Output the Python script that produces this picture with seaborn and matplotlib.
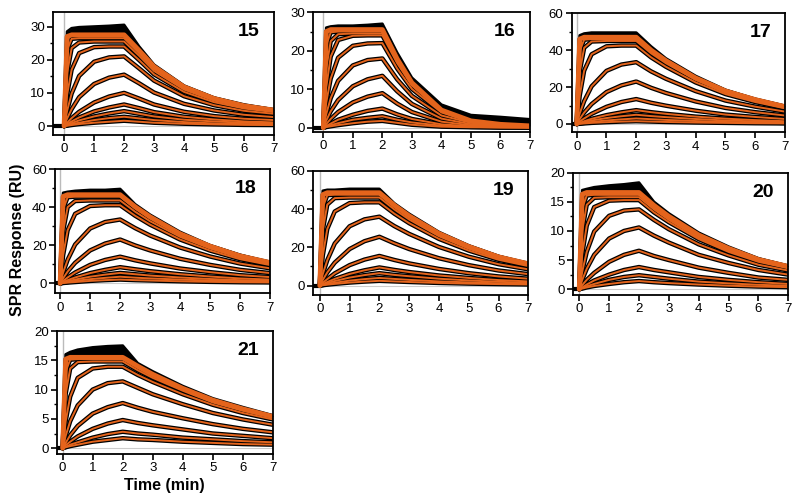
import matplotlib
matplotlib.use("Agg")
import matplotlib.pyplot as plt
import seaborn as sns
from matplotlib.ticker import MultipleLocator

time_min = [0, 0.1, 0.25, 0.5, 1, 1.5, 2, 2.5, 3, 4, 5, 6, 7]

# --- compound 15 ---
resp_15 = [
    [0, 27, 27.5, 27.5, 27.5, 27.5, 27.5, 22.8, 17.9, 11.8, 8.3, 6.1, 4.8],
    [0, 23, 26.3, 26.5, 26.5, 26.5, 26.5, 22, 17.2, 11.4, 8.0, 5.8, 4.6],
    [0, 16, 23.5, 25.2, 25.5, 25.5, 25.5, 21.2, 16.6, 11.0, 7.7, 5.6, 4.5],
    [0, 9.5, 17, 22, 23.8, 24, 24, 19.9, 15.6, 10.3, 7.2, 5.3, 4.2],
    [0, 4.6, 9.8, 15.1, 19.4, 20.7, 21, 17.4, 13.7, 9.0, 6.3, 4.6, 3.7],
    [0, 2.3, 5.1, 8.7, 12.7, 14.6, 15.5, 12.9, 10.1, 6.7, 4.7, 3.4, 2.7],
    [0, 1.0, 2.4, 4.3, 7.1, 8.9, 10, 8.3, 6.5, 4.3, 3.0, 2.2, 1.8],
    [0, 0.6, 1.4, 2.6, 4.4, 5.6, 6.5, 5.4, 4.2, 2.8, 2.0, 1.4, 1.1],
    [0, 0.4, 0.9, 1.7, 2.9, 3.8, 4.5, 3.7, 2.9, 1.9, 1.4, 1.0, 0.8],
    [0, 0.2, 0.6, 1.0, 1.8, 2.4, 2.8, 2.3, 1.8, 1.2, 0.8, 0.6, 0.5],
    [0, 0.1, 0.3, 0.6, 1.0, 1.3, 1.6, 1.3, 1.0, 0.7, 0.5, 0.35, 0.3],
]
top_15 = [0, 28.5, 29.5, 29.8, 30, 30.2, 30.5, 24, 18.5, 12.2, 8.6, 6.5, 5.0]

# --- compound 16 ---
resp_16 = [
    [0, 25, 25.5, 25.5, 25.5, 25.5, 25.5, 17.9, 11.7, 4.6, 1.8, 0.9, 0.5],
    [0, 21.5, 24.8, 25, 25, 25, 25, 17.5, 11.5, 4.5, 1.75, 0.9, 0.5],
    [0, 15.5, 22.5, 24.3, 24.5, 24.5, 24.5, 17.2, 11.3, 4.4, 1.7, 0.85, 0.5],
    [0, 10.6, 18.5, 22.8, 23.9, 24, 24, 16.8, 11, 4.3, 1.7, 0.85, 0.5],
    [0, 6.6, 12.8, 18.2, 21.3, 21.9, 22, 15.4, 10.1, 4.0, 1.5, 0.8, 0.45],
    [0, 3.6, 7.7, 12.2, 16.2, 17.6, 18, 12.6, 8.3, 3.2, 1.3, 0.6, 0.35],
    [0, 1.9, 4.3, 7.2, 10.8, 12.6, 13.5, 9.5, 6.2, 2.4, 0.95, 0.5, 0.3],
    [0, 1.0, 2.3, 4.1, 6.6, 8.1, 9, 6.3, 4.1, 1.6, 0.65, 0.35, 0.2],
    [0, 0.5, 1.1, 2.1, 3.4, 4.4, 5, 3.5, 2.3, 0.9, 0.4, 0.2, 0.1],
    [0, 0.3, 0.7, 1.2, 2.1, 2.6, 3, 2.1, 1.4, 0.55, 0.25, 0.1, 0.1],
    [0, 0.2, 0.4, 0.7, 1.2, 1.6, 1.8, 1.3, 0.8, 0.3, 0.15, 0.1, 0.05],
]
top_16 = [0, 26, 26.3, 26.5, 26.5, 26.7, 27, 19.5, 13, 6, 3.3, 2.8, 2.2]

# --- compound 17 ---
resp_17 = [
    [0, 46, 47, 47, 47, 47, 47, 40, 34.3, 24.9, 17.9, 13.2, 9.4],
    [0, 39.6, 45.7, 46, 46, 46, 46, 39.1, 33.6, 24.4, 17.5, 12.9, 9.2],
    [0, 28.4, 41.3, 44.7, 45, 45, 45, 38.3, 32.9, 23.9, 17.1, 12.6, 9],
    [0, 15.3, 28.9, 37.8, 42.1, 42.5, 42.5, 36.1, 31, 22.5, 16.2, 11.9, 8.5],
    [0, 5.7, 12.4, 20.4, 28.8, 32.2, 33.5, 28.5, 24.5, 17.8, 12.7, 9.4, 6.7],
    [0, 2.7, 6.2, 10.8, 17.3, 20.9, 23, 19.6, 16.8, 12.2, 8.7, 6.4, 4.6],
    [0, 1.3, 3.0, 5.5, 9.3, 11.9, 13.5, 11.5, 9.9, 7.2, 5.1, 3.8, 2.7],
    [0, 0.6, 1.5, 2.8, 4.8, 6.3, 7.5, 6.4, 5.5, 4.0, 2.9, 2.1, 1.5],
    [0, 0.4, 1.0, 1.9, 3.2, 4.2, 5, 4.3, 3.7, 2.7, 1.9, 1.4, 1.0],
    [0, 0.25, 0.6, 1.1, 1.9, 2.5, 3, 2.6, 2.2, 1.6, 1.1, 0.8, 0.6],
    [0, 0.1, 0.3, 0.6, 1.0, 1.3, 1.5, 1.3, 1.1, 0.8, 0.6, 0.4, 0.3],
]
top_17 = [0, 48, 49, 49.5, 49.5, 49.5, 49.5, 42, 35.5, 26, 18.5, 13.5, 9.8]

# --- compound 18 ---
resp_18 = [
    [0, 45.6, 46.5, 46.5, 46.5, 46.5, 46.5, 40.2, 34.9, 26, 19.5, 14.4, 10.9],
    [0, 39.1, 45.2, 45.5, 45.5, 45.5, 45.5, 39.4, 34.1, 25.5, 19.1, 14.1, 10.7],
    [0, 27.4, 40, 43.2, 43.5, 43.5, 43.5, 37.6, 32.6, 24.4, 18.3, 13.5, 10.2],
    [0, 14.8, 27.9, 36.5, 40.6, 41, 41, 35.5, 30.8, 23, 17.2, 12.7, 9.6],
    [0, 5.7, 12.4, 20.4, 28.8, 32.2, 33.5, 29, 25.1, 18.8, 14.1, 10.4, 7.9],
    [0, 2.7, 6.2, 10.8, 17.3, 20.9, 23, 19.9, 17.3, 12.9, 9.7, 7.1, 5.4],
    [0, 1.3, 3.1, 5.7, 9.7, 12.3, 14, 12.1, 10.5, 7.8, 5.9, 4.3, 3.3],
    [0, 0.7, 1.7, 3.1, 5.4, 7.1, 8.5, 7.4, 6.4, 4.8, 3.6, 2.6, 2.0],
    [0, 0.5, 1.1, 2.0, 3.5, 4.6, 5.5, 4.8, 4.1, 3.1, 2.3, 1.7, 1.3],
    [0, 0.3, 0.7, 1.3, 2.2, 2.9, 3.5, 3.0, 2.6, 2.0, 1.5, 1.1, 0.8],
    [0, 0.2, 0.4, 0.7, 1.3, 1.7, 2, 1.7, 1.5, 1.1, 0.8, 0.6, 0.5],
]
top_18 = [0, 47.5, 48, 48.5, 49, 49, 49.5, 41.5, 36, 27, 20, 15, 11]

# --- compound 19 ---
resp_19 = [
    [0, 47.5, 48.5, 48.5, 48.5, 48.5, 48.5, 42, 36.4, 27.2, 20.4, 15, 11.4],
    [0, 40.9, 47.2, 47.5, 47.5, 47.5, 47.5, 41.1, 35.6, 26.6, 20, 14.7, 11.2],
    [0, 29, 42.3, 45.7, 46, 46, 46, 39.8, 34.5, 25.8, 19.3, 14.3, 10.8],
    [0, 15.7, 29.6, 38.7, 43.1, 43.5, 43.5, 37.6, 32.6, 24.4, 18.3, 13.5, 10.2],
    [0, 6.1, 13.3, 22, 31, 34.6, 36, 31.1, 27, 20.2, 15.1, 11.2, 8.5],
    [0, 3.0, 6.9, 12, 19.1, 23.2, 25.5, 22.1, 19.1, 14.3, 10.7, 7.9, 6.0],
    [0, 1.5, 3.4, 6.4, 10.7, 13.6, 15.5, 13.4, 11.6, 8.7, 6.5, 4.8, 3.6],
    [0, 0.8, 1.9, 3.5, 6.1, 8.0, 9.5, 8.2, 7.1, 5.3, 4.0, 2.9, 2.2],
    [0, 0.5, 1.3, 2.4, 4.2, 5.5, 6.5, 5.6, 4.9, 3.6, 2.7, 2.0, 1.5],
    [0, 0.3, 0.8, 1.5, 2.6, 3.4, 4, 3.5, 3, 2.2, 1.7, 1.2, 0.9],
    [0, 0.2, 0.5, 0.9, 1.6, 2.1, 2.5, 2.2, 1.9, 1.4, 1.05, 0.8, 0.6],
]
top_19 = [0, 49.5, 50, 50, 50.5, 50.5, 50.5, 43, 37.5, 28, 21, 15.5, 11.5]

# --- compound 20 ---
resp_20 = [
    [0, 16.3, 16.6, 16.6, 16.6, 16.6, 16.6, 14.4, 12.5, 9.3, 7.0, 5.1, 3.9],
    [0, 13.9, 16.1, 16.2, 16.2, 16.2, 16.2, 14, 12.2, 9.1, 6.8, 5.0, 3.8],
    [0, 10, 14.5, 15.7, 15.8, 15.8, 15.8, 13.7, 11.9, 8.8, 6.6, 4.9, 3.7],
    [0, 6, 10.9, 14.1, 15.2, 15.3, 15.3, 13.2, 11.5, 8.6, 6.4, 4.7, 3.6],
    [0, 3.0, 6.4, 9.9, 12.6, 13.5, 13.7, 11.9, 10.3, 7.7, 5.8, 4.2, 3.2],
    [0, 1.6, 3.5, 5.9, 8.7, 10, 10.6, 9.2, 8.0, 5.9, 4.5, 3.3, 2.5],
    [0, 0.7, 1.6, 2.8, 4.7, 5.9, 6.6, 5.7, 5.0, 3.7, 2.8, 2.0, 1.6],
    [0, 0.3, 0.8, 1.5, 2.5, 3.3, 3.8, 3.3, 2.9, 2.1, 1.6, 1.2, 0.9],
    [0, 0.2, 0.5, 0.9, 1.6, 2.1, 2.4, 2.1, 1.8, 1.3, 1.0, 0.75, 0.6],
    [0, 0.1, 0.3, 0.55, 0.9, 1.2, 1.4, 1.2, 1.05, 0.8, 0.6, 0.45, 0.35],
]
top_20 = [0, 17, 17.2, 17.5, 17.8, 18, 18.3, 15, 13, 9.7, 7.3, 5.3, 4.0]

# --- compound 21 ---
resp_21 = [
    [0, 15.2, 15.5, 15.5, 15.5, 15.5, 15.5, 14, 12.6, 10.2, 8.2, 6.7, 5.4],
    [0, 13.1, 15.1, 15.2, 15.2, 15.2, 15.2, 13.7, 12.3, 10, 8.1, 6.5, 5.3],
    [0, 9.3, 13.6, 14.7, 14.8, 14.8, 14.8, 13.3, 12, 9.8, 7.8, 6.4, 5.2],
    [0, 4.6, 8.8, 12, 13.6, 13.9, 13.9, 12.5, 11.3, 9.2, 7.4, 6.0, 4.9],
    [0, 2.1, 4.6, 7.3, 10, 11.1, 11.4, 10.3, 9.2, 7.5, 6.0, 4.9, 4.0],
    [0, 0.9, 2.2, 3.8, 5.9, 7.0, 7.7, 6.9, 6.2, 5.1, 4.1, 3.3, 2.7],
    [0, 0.5, 1.1, 2.0, 3.3, 4.2, 4.8, 4.3, 3.9, 3.2, 2.5, 2.1, 1.7],
    [0, 0.2, 0.6, 1.0, 1.8, 2.4, 2.8, 2.5, 2.3, 1.8, 1.5, 1.2, 1.0],
    [0, 0.15, 0.35, 0.6, 1.1, 1.4, 1.7, 1.5, 1.4, 1.1, 0.9, 0.7, 0.6],
]
top_21 = [0, 16, 16.4, 16.8, 17.2, 17.4, 17.5, 14.5, 13.1, 10.6, 8.5, 7, 5.6]

panel_names = ["15", "16", "17", "18", "19", "20", "21"]
panel_resp = [resp_15, resp_16, resp_17, resp_18, resp_19, resp_20, resp_21]
panel_top = [top_15, top_16, top_17, top_18, top_19, top_20, top_21]
x_limits = [(-0.37, 7), (-0.34, 7), (-0.17, 7), (-0.17, 7), (-0.22, 7), (-0.2, 7), (-0.18, 7)]
y_limits = [(-2.7, 34.3), (-1, 30), (-4.5, 60), (-5.2, 60), (-4.9, 60), (-1, 20), (-1, 20)]
y_major = [10, 10, 20, 20, 20, 5, 5]

# axes boxes in figure fractions [left, bottom, width, height]
boxes = [
    [0.0663, 0.7316, 0.2762, 0.2439],
    [0.3916, 0.7382, 0.2709, 0.2374],
    [0.7146, 0.7370, 0.2666, 0.2366],
    [0.0688, 0.4169, 0.2688, 0.2471],
    [0.3916, 0.4135, 0.2688, 0.2471],
    [0.7166, 0.4135, 0.2688, 0.2431],
    [0.0716, 0.0974, 0.2695, 0.2445],
]

ORANGE = "#e4641c"

sns.set_theme(style="ticks")
plt.rcParams['font.family'] = ['Liberation Sans', 'DejaVu Sans']
plt.rcParams['text.color'] = 'black'
plt.rcParams['xtick.color'] = 'black'
plt.rcParams['ytick.color'] = 'black'

fig = plt.figure(figsize=(8, 5.03), dpi=100)

for i, name in enumerate(panel_names):
    ax = fig.add_axes(boxes[i])
    x0 = x_limits[i][0]
    ax.axvline(0, color="#bbbbbb", lw=1, zorder=0)
    ax.axhline(0, color="#cccccc", lw=0.8, zorder=0)
    # baseline before injection
    sns.lineplot(x=[x0, 0], y=[0, 0], ax=ax, color="black", lw=3)
    # noisy black band of the top data trace
    ax.fill_between(time_min, panel_resp[i][0], panel_top[i], color="black", lw=0)
    sns.lineplot(x=time_min, y=panel_top[i], ax=ax, color="black", lw=2)
    for curve in panel_resp[i]:
        sns.lineplot(x=time_min, y=curve, ax=ax, color="black", lw=3.2)
    # orange fits
    for j, curve in enumerate(panel_resp[i]):
        sns.lineplot(x=time_min, y=curve, ax=ax, color=ORANGE,
                     lw=3.5 if j == 0 else 1.4)

    ax.set_xlim(*x_limits[i])
    ax.set_ylim(*y_limits[i])
    ax.set_xticks(range(0, 8))
    ax.yaxis.set_major_locator(MultipleLocator(y_major[i]))
    ax.yaxis.set_minor_locator(MultipleLocator(y_major[i] / 2))
    ax.tick_params(axis="both", which="major", direction="out", length=4,
                   width=1.2, labelsize=9.5, pad=2, color="black",
                   labelcolor="black")
    ax.tick_params(axis="y", which="minor", direction="out", length=2.5,
                   width=1.0, color="black")
    for sp in ax.spines.values():
        sp.set_linewidth(1.3)
        sp.set_color("black")
    ax.set_xlabel("")
    ax.set_ylabel("")
    ax.text(0.885, 0.84, name, transform=ax.transAxes, ha="center", va="center",
            fontsize=14, fontweight="bold", color="black")

fig.text(0.022, 0.523, "SPR Response (RU)", rotation=90, ha="center", va="center",
         fontsize=11.5, fontweight="bold", color="black")
fig.text(0.206, 0.034, "Time (min)", ha="center", va="center",
         fontsize=11.5, fontweight="bold", color="black")

fig.savefig("out.png", dpi=100)
